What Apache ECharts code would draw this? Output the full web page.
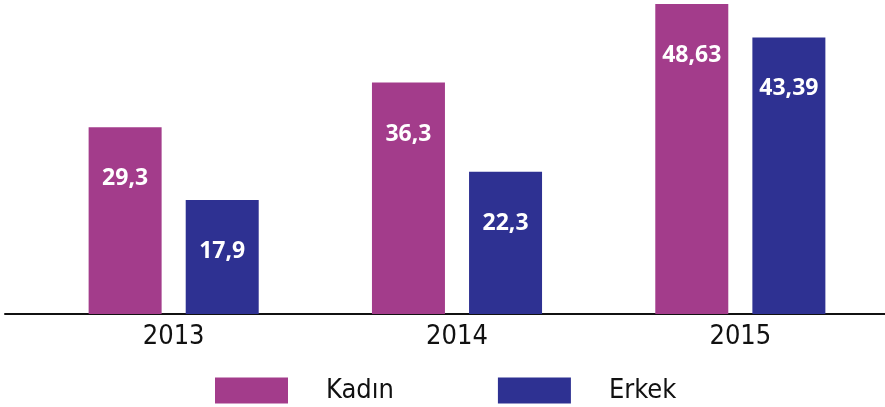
<!DOCTYPE html>
<html>
<head>
<meta charset="utf-8">
<script src="https://cdn.jsdelivr.net/npm/echarts@6/dist/echarts.min.js"></script>
<style>html,body{margin:0;padding:0;background:#fff}#c{width:885px;height:407px}</style>
</head>
<body>
<div id="c"></div>
<script>
const categories = ['2013', '2014', '2015'];
const kadin = [29.3, 36.3, 48.63];
const erkek = [17.9, 22.3, 43.39];
const seriesNames = ['Kadın', 'Erkek'];
const colors = ['#A33C8B', '#2E3192'];

const fmt = p => String(p.value).replace('.', ',');
const chart = echarts.init(document.getElementById('c'), null, {renderer: 'canvas'});
const yMax = Math.max(...kadin, ...erkek);
const condensed = '"DejaVu Sans Condensed", "Open Sans"';
const labelStyle = {
  show: true, position: 'insideTop', distance: 40,
  color: '#fff', fontFamily: 'Noto Sans', fontWeight: 'bold', fontSize: 23,
  formatter: fmt
};
chart.setOption({
  animation: false,
  grid: [
    {left: 5, right: 0, top: 4, bottom: 93},
    {left: 32, right: 3, top: 4, bottom: 93}
  ],
  legend: {
    data: seriesNames, left: 210, top: 372, itemWidth: 73, itemHeight: 26, itemGap: 104,
    icon: 'rect',
    textStyle: {fontFamily: condensed, fontSize: 27, color: '#111', width: 67, padding: [0, 0, 0, 33]}
  },
  xAxis: [
    {type: 'category', gridIndex: 0, data: categories,
     axisLine: {show: true, lineStyle: {color: '#111', width: 2}},
     axisTick: {show: false}, axisLabel: {show: false}, splitLine: {show: false}},
    {type: 'category', gridIndex: 1, data: categories,
     axisLine: {show: false}, axisTick: {show: false},
     axisLabel: {fontFamily: condensed, fontSize: 27, color: '#111', margin: 9}}
  ],
  yAxis: [
    {type: 'value', gridIndex: 0, min: 0, max: yMax, show: false},
    {type: 'value', gridIndex: 1, min: 0, max: yMax, show: false}
  ],
  series: [
    {name: seriesNames[0], type: 'bar', xAxisIndex: 1, yAxisIndex: 1, data: kadin,
     barWidth: 73, barGap: '33%', itemStyle: {color: colors[0]}, label: labelStyle},
    {name: seriesNames[1], type: 'bar', xAxisIndex: 1, yAxisIndex: 1, data: erkek,
     barWidth: 73, barGap: '33%', itemStyle: {color: colors[1]}, label: labelStyle}
  ]
});
</script>
</body>
</html>
